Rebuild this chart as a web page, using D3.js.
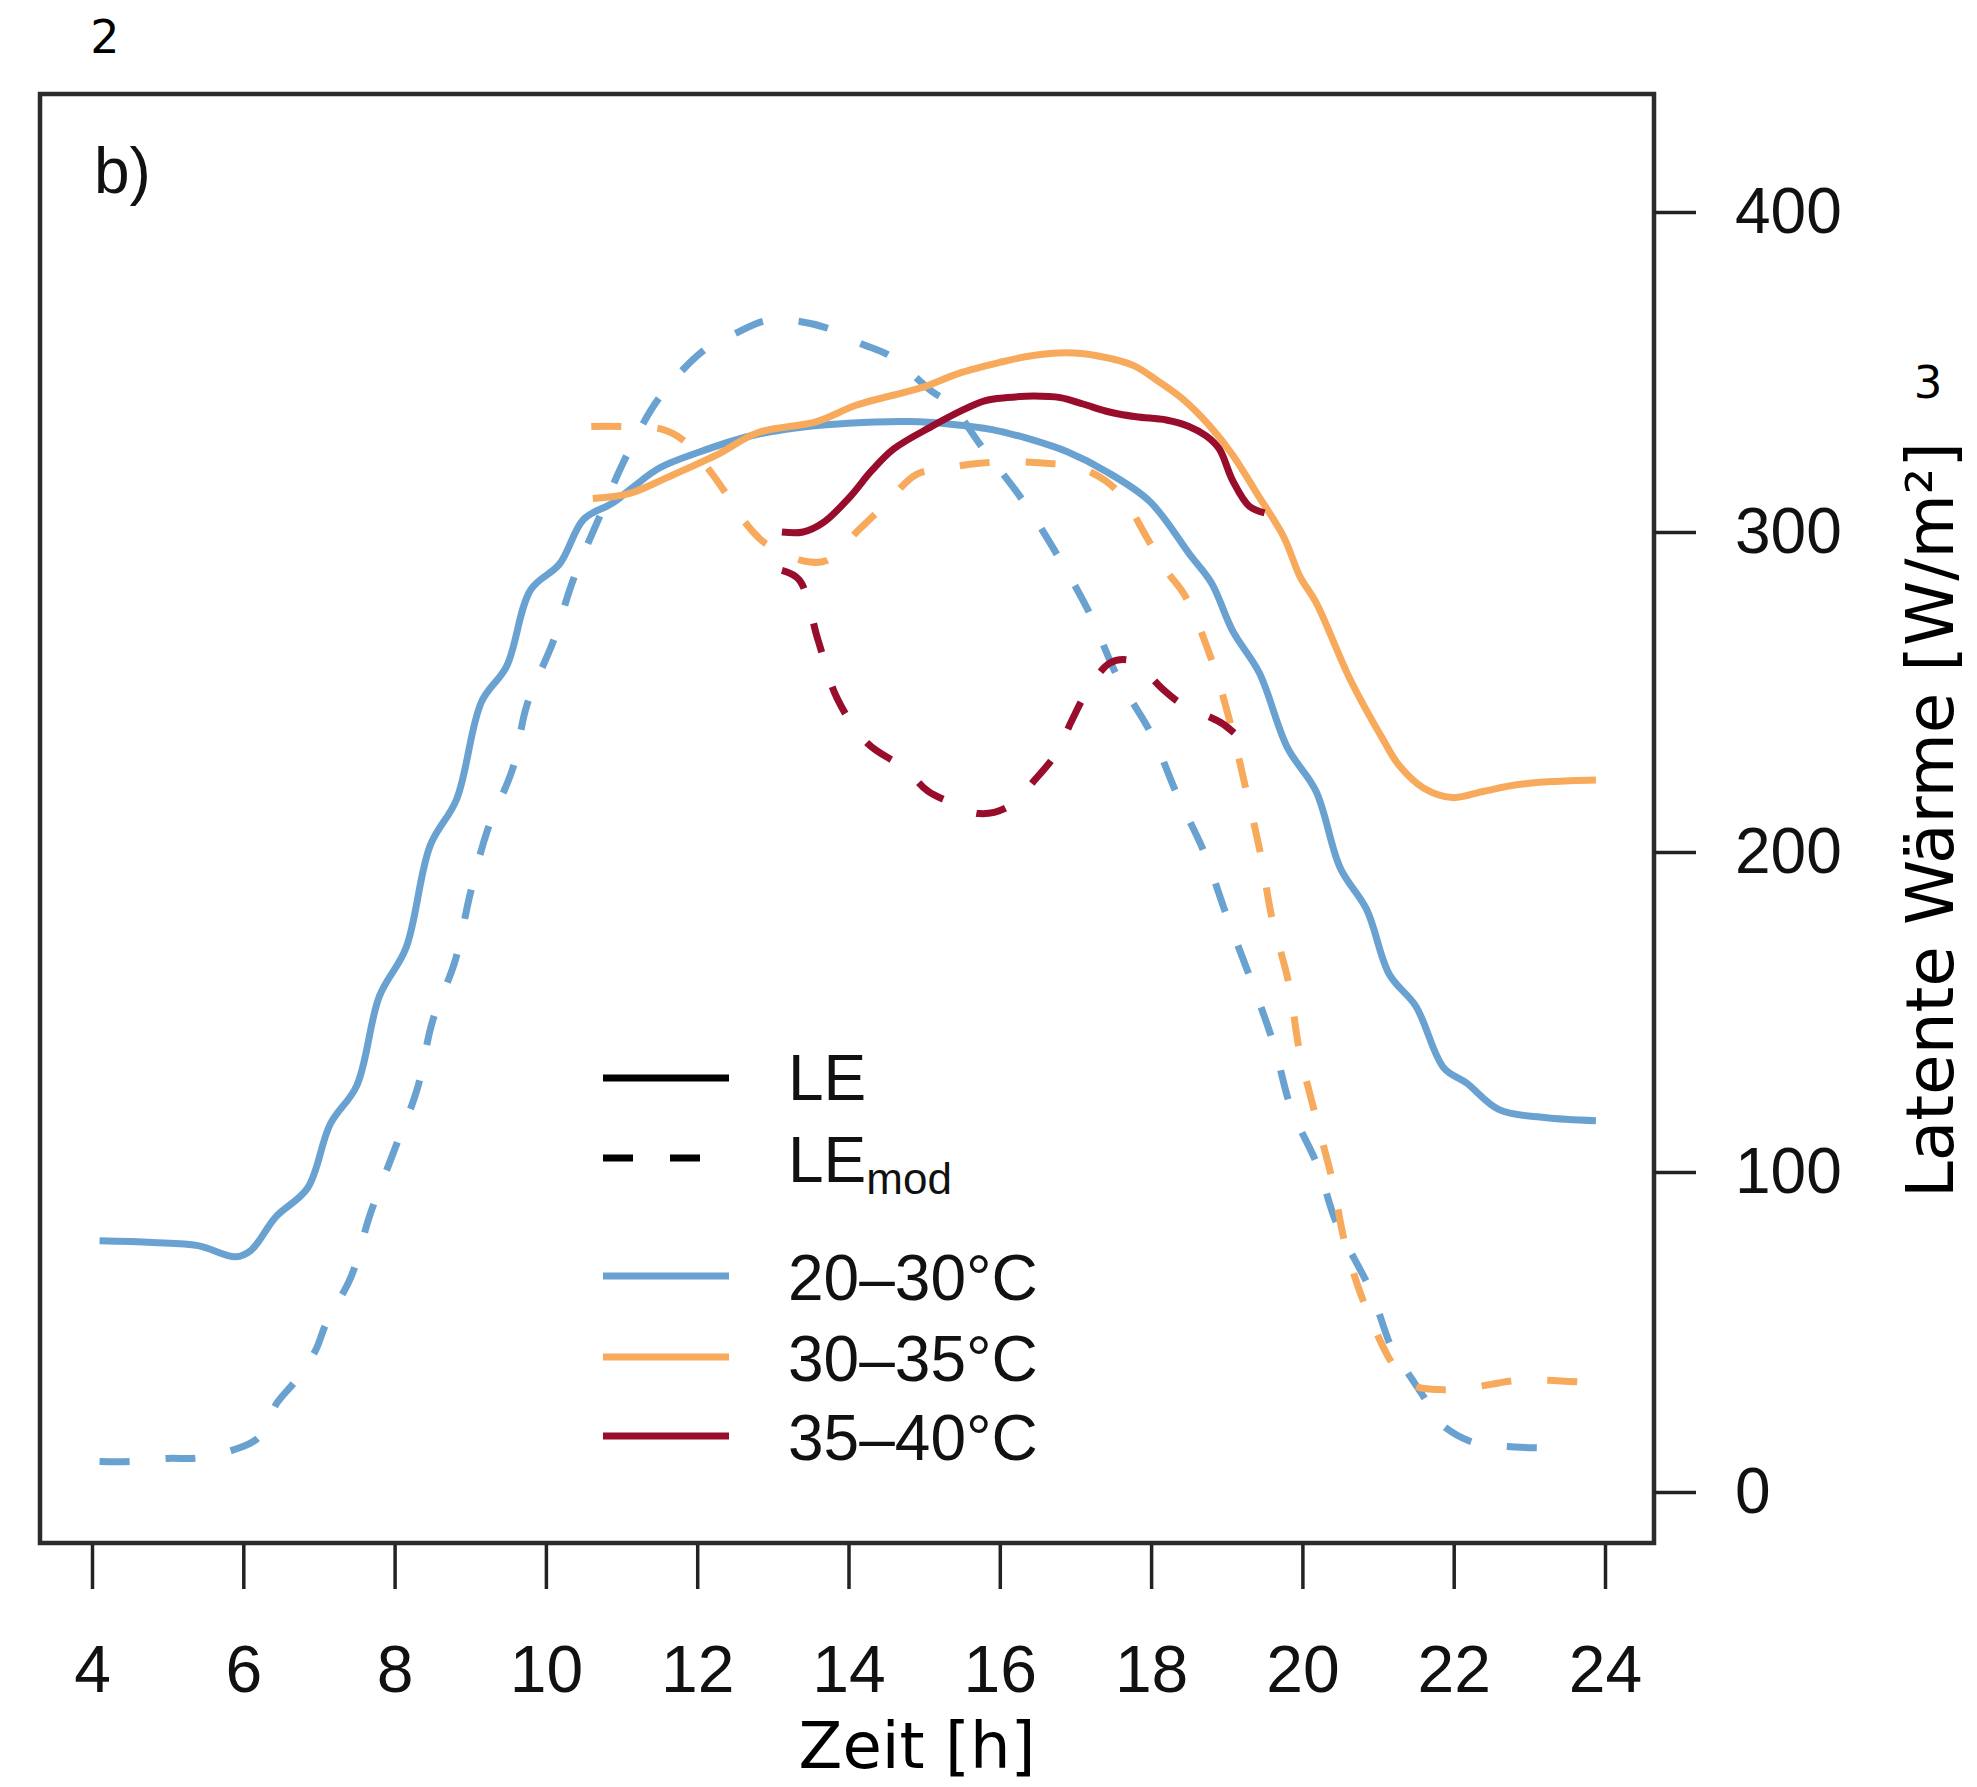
<!DOCTYPE html>
<html lang="de">
<head>
<meta charset="utf-8">
<title>Latente Wärme</title>
<script src="https://cdn.jsdelivr.net/npm/d3@7/dist/d3.min.js"></script>
<style>
body{
  margin: 0;
  background: #fff;
}
.axis text{
  font-family: "Liberation Sans", Arial, sans-serif;
  fill: #111;
}
.axis line{
  stroke: #222;
  stroke-width: 3.5;
}
.label{
  font-family: "DejaVu Sans", Verdana, sans-serif;
  fill: #000;
}
.leg{
  font-family: "Liberation Sans", Arial, sans-serif;
  font-size: 64px;
  fill: #111;
}
</style>
</head>
<body>
<div id="chart"></div>

<script>
/* ticks */
var xTicks = [4, 6, 8, 10, 12, 14, 16, 18, 20, 22, 24];
var yTicks = [0, 100, 200, 300, 400];

/* 20-30 °C, LE (gemessen) */
var tBlueLE = [4.1, 4.8, 5.4, 5.9, 6.1, 6.43, 6.85, 7.15, 7.5, 7.8, 8.15, 8.47, 8.82, 9.15, 9.48, 9.8, 10.18, 10.5, 10.88, 11.15, 11.5, 12.03, 12.7, 13.3, 14.0, 14.8, 15.35, 15.9, 16.4, 16.9, 17.4, 17.98, 18.52, 18.8, 19.08, 19.43, 19.8, 20.18, 20.5, 20.85, 21.15, 21.5, 21.87, 22.17, 22.6, 23.2, 23.88];
var blueLE = [78.5, 78, 77, 73.5, 75.5, 86, 95, 115, 127, 155, 170, 202, 216.5, 247, 258, 282, 290, 304, 309, 314, 320, 325, 330, 332.5, 334, 334.5, 333.7, 332, 329, 325, 319, 309.6, 292.7, 284, 269, 256, 232.7, 219, 195, 182, 161.7, 151.8, 132.5, 127.8, 119.5, 117, 116];

/* 20-30 °C, LEmod */
var tBlueMod = [4.1, 4.5, 5.0, 5.4, 5.85, 6.2, 6.45, 6.7, 6.95, 7.1, 7.42, 7.68, 8.0, 8.3, 8.5, 8.8, 9.0, 9.23, 9.56, 9.75, 10.1, 10.36, 10.75, 11.07, 11.5, 12.1, 12.5, 12.9, 13.3, 13.75, 14.15, 14.55, 15.1, 15.35, 15.75, 16.3, 16.78, 17.2, 17.55, 18.0, 18.36, 18.7, 19.0, 19.32, 19.62, 19.85, 20.2, 20.45, 20.9, 21.2, 21.4, 21.65, 21.8, 22.2, 22.55, 23.1, 23.47];
var blueMod = [9.5, 9.5, 10.5, 10.6, 13, 17, 28, 35, 44, 53, 67, 87, 107, 126, 147, 166, 187, 207, 226, 246, 266, 285, 307, 324, 342, 357, 362, 366, 366, 363.5, 359, 355, 344, 340, 327, 310, 292, 274, 255, 237, 217, 200, 180, 160, 140, 120, 102, 84, 63, 44, 37, 28, 22, 16, 14.5, 13.8, 13.8];

/* 30-35 °C, LE */
var tOrangeLE = [10.62, 11.1, 11.6, 12.25, 12.8, 13.58, 14.1, 14.8, 15.03, 15.45, 16.0, 16.4, 16.88, 17.3, 17.77, 18.1, 18.42, 18.78, 19.08, 19.4, 19.75, 19.97, 20.18, 20.63, 21.07, 21.28, 21.6, 21.98, 22.4, 22.83, 23.3, 23.88];
var orangeLE = [310.5, 312, 317, 324, 331, 334.5, 339.6, 344, 345.6, 349.5, 353, 355, 356, 355, 352, 347, 341.5, 333, 324, 312, 298.6, 286, 278, 254, 235, 227, 220, 217, 219, 221, 222, 222.5];

/* 30-35 °C, LEmod */
var tOrangeMod = [10.6, 11.0, 11.55, 11.82, 12.17, 12.38, 12.6, 12.87, 13.1, 13.4, 13.7, 14.15, 14.5, 14.9, 15.3, 15.73, 16.2, 16.6, 17.0, 17.4, 17.65, 17.95, 18.2, 18.45, 18.8, 19.05, 19.25, 19.45, 19.6, 19.82, 19.96, 20.18, 20.4, 20.57, 20.85, 21.25, 21.5, 21.8, 22.2, 22.9, 23.87];
var orangeMod = [333, 333, 332, 328.6, 319, 312, 304, 297, 294, 291, 291, 301, 309, 318, 320, 321.5, 322, 321.5, 320.5, 316, 310, 298, 288, 280, 260, 240, 220, 199, 179, 159, 138, 117, 97, 77, 57, 38, 33, 32, 32.5, 35, 34];

/* 35-40 °C, LE */
var tRedLE = [13.12, 13.4, 13.67, 14.02, 14.3, 14.6, 15.1, 15.5, 15.8, 16.1, 16.45, 16.8, 17.1, 17.45, 17.8, 18.2, 18.5, 18.73, 18.9, 19.08, 19.3, 19.5];
var redLE = [300, 300, 303, 311, 319, 326, 333, 338, 341, 342, 342.5, 342, 340, 337.5, 336, 335, 333, 330, 326, 316, 308, 306];

/* 35-40 °C, LEmod */
var tRedMod = [13.12, 13.35, 13.6, 13.85, 14.25, 14.75, 15.05, 15.4, 15.73, 16.1, 16.48, 16.75, 16.95, 17.15, 17.45, 17.7, 17.9, 18.15, 18.42, 18.7, 18.95, 19.2];
var redMod = [288, 285, 266, 248, 234, 226, 219, 215, 212, 214, 223, 231, 241, 250, 259, 260, 257, 251, 246, 243, 240, 235];

/* legend texts */
var typeLabels = ['LE', 'LE'];
var classLabels = ['20\u201330\u00b0C', '30\u201335\u00b0C', '35\u201340\u00b0C'];

var blue = '#69a2d0', orange = '#f7aa5c', red = '#990d2c';
var dash = '30,36';

function pairs(t, v) {
  return t.map(function(d, i) { return [d, v[i]]; });
}

/* drawing order like the original: blue, orange, red */
var series = [
  { data: pairs(tBlueMod, blueMod), color: blue, dashed: true },
  { data: pairs(tBlueLE, blueLE), color: blue, dashed: false },
  { data: pairs(tOrangeMod, orangeMod), color: orange, dashed: true },
  { data: pairs(tOrangeLE, orangeLE), color: orange, dashed: false },
  { data: pairs(tRedMod, redMod), color: red, dashed: true },
  { data: pairs(tRedLE, redLE), color: red, dashed: false }
];

var W = 1977, H = 1787;
var frame = { left: 40, top: 94, right: 1654, bottom: 1543 };

var x = d3.scaleLinear().domain([4, 24]).range([92, 1605]);
var y = d3.scaleLinear().domain([0, 400]).range([1492, 212]);

var svg = d3.select('#chart')
  .append('svg')
  .attr('width', W)
  .attr('height', H);

/* box around plot */
svg.append('rect')
  .attr('x', frame.left)
  .attr('y', frame.top)
  .attr('width', frame.right - frame.left)
  .attr('height', frame.bottom - frame.top)
  .style('fill', 'none')
  .style('stroke', '#2b2b2b')
  .style('stroke-width', 4.5);

var line = d3.line()
  .x(function(d) { return x(d[0]); })
  .y(function(d) { return y(d[1]); })
  .curve(d3.curveCatmullRom.alpha(0.5));

svg.selectAll('path.series')
  .data(series)
  .enter()
  .append('path')
  .attr('class', 'series')
  .attr('d', function(d) { return line(d.data); })
  .style('fill', 'none')
  .style('stroke', function(d) { return d.color; })
  .style('stroke-width', 7)
  .style('stroke-linejoin', 'round')
  .style('stroke-dasharray', function(d) { return d.dashed ? dash : null; });

/* axes */
var xAxis = svg.append('g')
  .attr('class', 'axis')
  .attr('transform', 'translate(0,' + (frame.bottom + 2) + ')')
  .call(d3.axisBottom(x).tickValues(xTicks).tickSize(44).tickPadding(56));
xAxis.select('.domain').remove();
xAxis.selectAll('text').style('font-size', '66px');

var yAxis = svg.append('g')
  .attr('class', 'axis')
  .attr('transform', 'translate(' + frame.right + ',0)')
  .call(d3.axisRight(y).tickValues(yTicks).tickSize(42).tickPadding(39));
yAxis.select('.domain').remove();
yAxis.selectAll('text').style('font-size', '64px');

/* titles */
svg.append('text')
  .attr('class', 'label')
  .attr('x', 917)
  .attr('y', 1768)
  .attr('text-anchor', 'middle')
  .style('font-size', '64px')
  .text('Zeit [h]');

svg.append('text')
  .attr('class', 'label')
  .attr('transform', 'translate(1953,820) rotate(-90)')
  .attr('text-anchor', 'middle')
  .style('font-size', '66px')
  .text('Latente Wärme [W/m\u00b2]');

svg.append('text')
  .attr('class', 'label')
  .attr('x', 105).attr('y', 53)
  .attr('text-anchor', 'middle')
  .style('font-size', '46px')
  .text('2');

svg.append('text')
  .attr('class', 'label')
  .attr('x', 1928).attr('y', 398)
  .attr('text-anchor', 'middle')
  .style('font-size', '45px')
  .text('3');

svg.append('text')
  .attr('class', 'leg')
  .attr('x', 94).attr('y', 193)
  .style('font-size', '64px')
  .text('b)');

/* legend */
var lg = svg.append('g');
var legX1 = 603, legX2 = 729, legText = 788;

lg.append('line')
  .attr('x1', legX1).attr('x2', legX2)
  .attr('y1', 1078).attr('y2', 1078)
  .style('stroke', '#000').style('stroke-width', 7);
lg.append('text').attr('class', 'leg')
  .attr('x', legText).attr('y', 1100)
  .text(typeLabels[0]);

lg.append('line')
  .attr('x1', legX1).attr('x2', 703)
  .attr('y1', 1158).attr('y2', 1158)
  .style('stroke', '#000').style('stroke-width', 7)
  .style('stroke-dasharray', '30,37');
var t2 = lg.append('text').attr('class', 'leg')
  .attr('x', legText).attr('y', 1182);
t2.append('tspan').text(typeLabels[1]);
t2.append('tspan').attr('dy', 12).style('font-size', '44px').text('mod');

var classColors = [blue, orange, red];
var rowY = [1276, 1357, 1436];
classLabels.forEach(function(lab, i) {
  lg.append('line')
    .attr('x1', legX1).attr('x2', legX2)
    .attr('y1', rowY[i]).attr('y2', rowY[i])
    .style('stroke', classColors[i]).style('stroke-width', 7);
  lg.append('text').attr('class', 'leg')
    .attr('x', legText).attr('y', rowY[i] + 24)
    .text(lab);
});
</script>
</body>
</html>
